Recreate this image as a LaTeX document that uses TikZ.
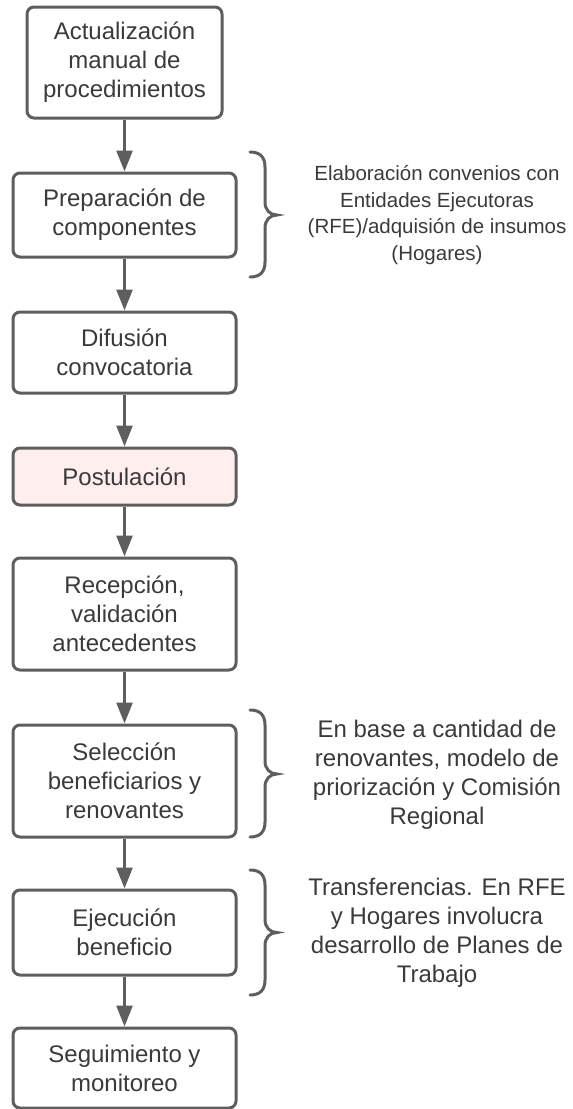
\documentclass[tikz,border=0pt]{standalone}
\usepackage{fontspec}
\setmainfont{Liberation Sans}
\usetikzlibrary{arrows.meta}
\definecolor{linegray}{HTML}{5E5E5E}
\definecolor{txtgray}{HTML}{3A3A3A}
\definecolor{pinkfill}{HTML}{FFEEEE}
\tikzset{
  stepbox/.style={draw=linegray, line width=3pt, rounded corners=7pt, fill=white,
    minimum width=223pt, align=center, text=txtgray, inner sep=0pt,
    font=\fontsize{24}{29}\selectfont},
  flowarrow/.style={draw=linegray, line width=2.5pt,
    -{Triangle[length=21pt,width=16pt]}},
  bracepath/.style={draw=linegray, line width=3pt, line cap=round},
  notetext/.style={align=center, text=txtgray, inner sep=0pt}
}
\begin{document}
\begin{tikzpicture}[x=1pt,y=-1pt]
\useasboundingbox (0,0) rectangle (573,1109);
\node[stepbox, minimum width=195pt, minimum height=111pt] (b1) at (124.5,62.5) {Actualización\\manual de\\procedimientos};
\node[stepbox, minimum height=84pt] (b2) at (124.5,215) {Preparación de\\componentes};
\node[stepbox, minimum height=81pt] (b3) at (124.5,352.5) {Difusión\\convocatoria};
\node[stepbox, minimum height=57pt, fill=pinkfill] (b4) at (124.5,476.5) {Postulación};
\node[stepbox, minimum height=112pt] (b5) at (124.5,614) {Recepción,\\validación\\antecedentes};
\node[stepbox, minimum height=112pt] (b6) at (124.5,781) {Selección\\beneficiarios y\\renovantes};
\node[stepbox, minimum height=85pt] (b7) at (124.5,932.5) {Ejecución\\beneficio};
\node[stepbox, minimum height=80pt] (b8) at (124.5,1068) {Seguimiento y\\monitoreo};

\foreach \a/\b in {b1/b2,b2/b3,b3/b4,b4/b5,b5/b6,b6/b7,b7/b8}
  \draw[flowarrow] (\a.south) -- (\b.north);

% braces
\foreach \t/\m/\bo in {152/215/277, 710/774/837, 870/932.5/995}{
  \draw[bracepath] (250,\t) .. controls (260,\t) and (265,\t+5) .. (265,\t+15)
    -- (265,\m-13) .. controls (265,\m-5) and (270,\m) .. (277,\m)
    .. controls (270,\m) and (265,\m+5) .. (265,\m+13)
    -- (265,\bo-15) .. controls (265,\bo-5) and (260,\bo) .. (250,\bo);
}

\node[notetext, font=\fontsize{20.5}{26.5}\selectfont] (n1) at (437,215) {Elaboración convenios con\\Entidades Ejecutoras\\(RFE)/adquisión de insumos\\(Hogares)};
\node[notetext, font=\fontsize{24}{29}\selectfont] (n2) at (437,775) {En base a cantidad de\\renovantes, modelo de\\priorización y Comisión\\Regional};
\node[notetext, font=\fontsize{24}{29}\selectfont] (n3) at (437,933) {Transferencias. En RFE\\y Hogares involucra\\desarrollo de Planes de\\Trabajo};
\end{tikzpicture}
\end{document}
